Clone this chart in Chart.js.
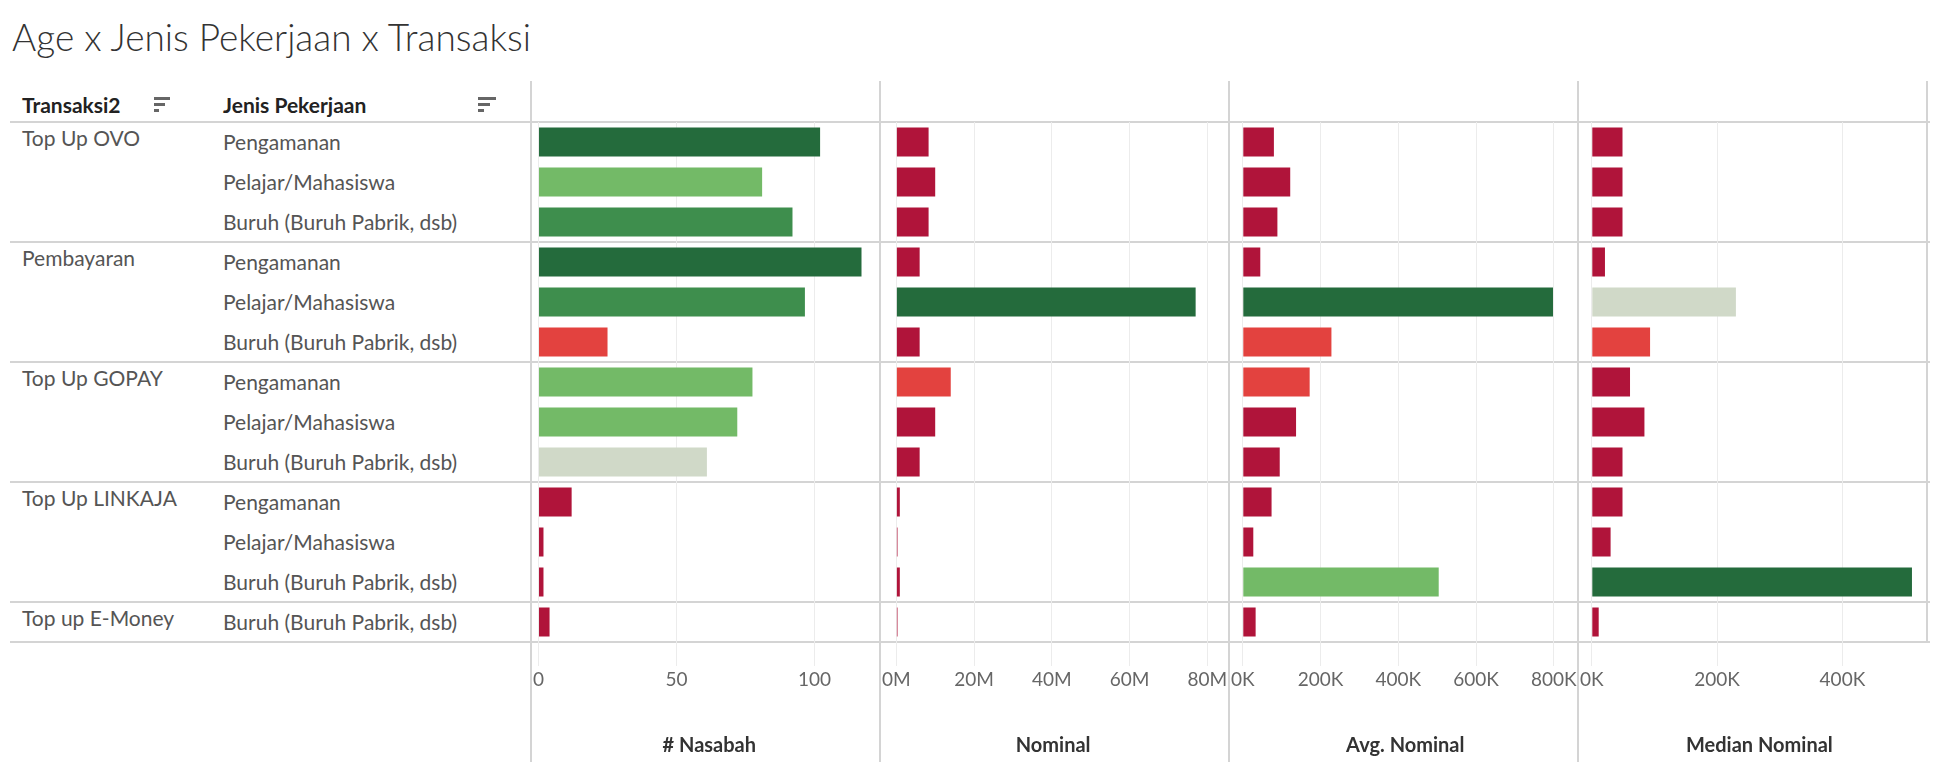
<!DOCTYPE html>
<html>
<head>
<meta charset="utf-8">
<script src="https://cdn.jsdelivr.net/npm/chart.js@4"></script>
<style>
  body { margin: 0; background: #fff; font-family: Lato, "Open Sans", sans-serif; }
  #wrap { position: relative; width: 1944px; height: 762px; overflow: hidden; }
  .abs { position: absolute; }
  .title { left: 12px; top: 14px; font-size: 37px; font-weight: 300; color: #333; }
  .hdr { top: 92px; font-size: 21px; font-weight: 700; color: #222; }
  .lbl { font-size: 21px; color: #555; line-height: 40px; height: 40px; }
  .hline { left: 10px; width: 1920px; height: 2px; background: #d4d4d4; }
  .vline { width: 2px; background: #d4d4d4; }
  .panel { position: absolute; top: 122px; width: 349px; height: 640px; }
  .icon { width: 16px; }
  .icon div { height: 3px; background: #666; margin-bottom: 3px; }
</style>
</head>
<body>
<div id="wrap">
  <div class="abs title">Age x Jenis Pekerjaan x Transaksi</div>
  <div class="abs hdr" style="left:22px">Transaksi2</div>
  <div class="abs hdr" style="left:223px">Jenis Pekerjaan</div>
  <div class="abs icon" style="left:154px;top:97px"><div style="width:16px"></div><div style="width:11px"></div><div style="width:5px"></div></div>
  <div class="abs icon" style="left:478px;top:97px"><div style="width:18px"></div><div style="width:12px"></div><div style="width:6px"></div></div>
</div>
<script>
const groups = ['Top Up OVO', 'Pembayaran', 'Top Up GOPAY', 'Top Up LINKAJA', 'Top up E-Money'];
const groupSizes = [3, 3, 3, 3, 1];
const jobs = [
  'Pengamanan', 'Pelajar/Mahasiswa', 'Buruh (Buruh Pabrik, dsb)',
  'Pengamanan', 'Pelajar/Mahasiswa', 'Buruh (Buruh Pabrik, dsb)',
  'Pengamanan', 'Pelajar/Mahasiswa', 'Buruh (Buruh Pabrik, dsb)',
  'Pengamanan', 'Pelajar/Mahasiswa', 'Buruh (Buruh Pabrik, dsb)',
  'Buruh (Buruh Pabrik, dsb)'
];
const nasabah = [102, 81, 92, 117, 96.5, 25, 77.5, 72, 61, 12, 1.8, 1.8, 4];
const nominal = [8.3e6, 10e6, 8.3e6, 6e6, 77e6, 6e6, 14e6, 10e6, 6e6, 0.9e6, 0.3e6, 0.9e6, 0.3e6];
const avgNominal = [80e3, 122e3, 89e3, 45e3, 798e3, 228e3, 172e3, 137e3, 95e3, 74e3, 27e3, 504e3, 33e3];
const medianNominal = [49e3, 49e3, 49e3, 21e3, 230e3, 93e3, 61e3, 84e3, 49e3, 49e3, 30e3, 511e3, 11e3];

const panels = [
  { title: '# Nasabah', data: nasabah, max: 123.7, step: 50, fmt: v => v },
  { title: 'Nominal', data: nominal, max: 80.7e6, step: 20e6, fmt: v => (v / 1e6) + 'M' },
  { title: 'Avg. Nominal', data: avgNominal, max: 836e3, step: 200e3, fmt: v => (v / 1e3) + 'K' },
  { title: 'Median Nominal', data: medianNominal, max: 535e3, step: 200e3, fmt: v => (v / 1e3) + 'K' }
];

const ROW = 40, TOP = 122, LEFT = 531, PW = 349;
const wrap = document.getElementById('wrap');

function colorFor(v, maxV) {
  const r = v / maxV;
  if (r >= 0.85) return '#246b3c';
  if (r >= 0.75) return '#3e8e4d';
  if (r >= 0.58) return '#73ba67';
  if (r >= 0.4) return '#d0d9c8';
  if (r >= 0.172) return '#e3423f';
  return '#b0143a';
}

// row labels and separators
let row = 0;
groups.forEach((g, gi) => {
  const d = document.createElement('div');
  d.className = 'abs lbl';
  d.style.left = '22px';
  d.style.top = (TOP + row * ROW - 4) + 'px';
  d.textContent = g;
  wrap.appendChild(d);
  row += groupSizes[gi];
  const l = document.createElement('div');
  l.className = 'abs hline';
  l.style.top = (TOP + row * ROW - 1) + 'px';
  wrap.appendChild(l);
});
jobs.forEach((j, i) => {
  const d = document.createElement('div');
  d.className = 'abs lbl';
  d.style.left = '223px';
  d.style.top = (TOP + i * ROW) + 'px';
  d.textContent = j;
  wrap.appendChild(d);
});
const hl = document.createElement('div');
hl.className = 'abs hline';
hl.style.top = (TOP - 1) + 'px';
wrap.appendChild(hl);
for (let k = 0; k <= 4; k++) {
  const v = document.createElement('div');
  v.className = 'abs vline';
  v.style.left = (LEFT - 1 + k * PW) + 'px';
  v.style.top = '81px';
  v.style.height = (k === 4 ? 561 : 681) + 'px';
  wrap.appendChild(v);
}

panels.forEach((p, k) => {
  const div = document.createElement('div');
  div.className = 'panel';
  div.style.left = (LEFT + k * PW) + 'px';
  const c = document.createElement('canvas');
  div.appendChild(c);
  wrap.appendChild(div);
  const maxV = Math.max(...p.data);
  new Chart(c, {
    type: 'bar',
    data: {
      labels: jobs,
      datasets: [{
        data: p.data,
        backgroundColor: p.data.map(v => colorFor(v, maxV)),
        barPercentage: 0.72,
        categoryPercentage: 1
      }]
    },
    options: {
      indexAxis: 'y',
      responsive: true,
      maintainAspectRatio: false,
      animation: false,
      layout: { padding: 0 },
      plugins: { legend: { display: false }, tooltip: { enabled: false } },
      scales: {
        y: { display: false },
        x: {
          min: 0, max: p.max,
          afterFit: s => { s.height = 120; },
          afterBuildTicks: s => {
            s.ticks = [];
            for (let t = 0; t <= p.max; t += p.step) s.ticks.push({ value: t });
          },
          border: { display: false },
          grid: { color: '#ececec', lineWidth: 1, tickLength: 24, drawOnChartArea: true },
          ticks: {
            color: '#666', font: { family: 'Lato', size: 19 }, padding: 2,
            maxRotation: 0, autoSkip: false,
            callback: v => p.fmt(v)
          },
          title: {
            display: true, text: p.title, color: '#333',
            font: { family: 'Lato', size: 20, weight: 'bold' }, padding: { top: 20 }
          }
        }
      }
    }
  });
});
</script>
</body>
</html>
